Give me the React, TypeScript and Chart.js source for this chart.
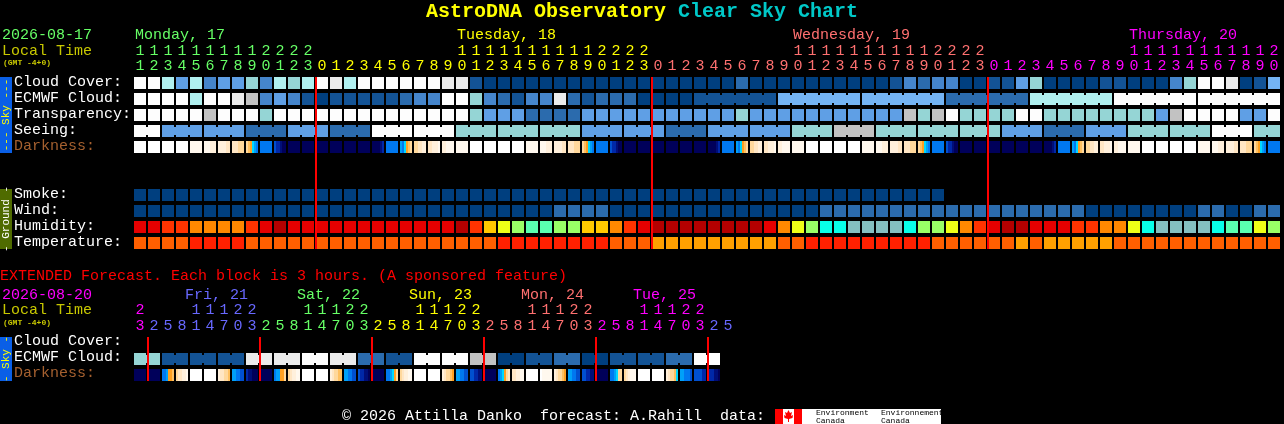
import { useEffect, useRef } from "react";
import { Chart, registerables, Plugin } from "chart.js";

Chart.register(...registerables);

// values are palette steps: 0 = clear/white ... 10 = overcast/navy
const cloudCover = [0,0,3,6,3,7,6,6,4,7,3,4,3,0,1,3,0,0,0,0,0,0,1,1,9,10,10,10,10,10,10,10,10,10,10,10,10,10,10,10,10,10,10,8,10,10,10,10,10,10,10,10,10,10,9,7,8,7,7,10,10,9,9,6,4,10,10,10,10,9,9,10,10,10,7,4,0,0,1,10,9,5];
const ecmwfCloud = [0,0,0,0,3,0,0,1,2,7,6,7,9,10,9,9,9,9,9,8,7,7,0,0,4,7,8,9,7,7,1,8,9,8,8,8,10,10,10,10,9,9,9,9,9,9,5,5,5,5,5,5,5,5,5,5,5,5,8,8,8,8,8,8,3,3,3,3,3,3,0,0,0,0,0,0,0,0,0,0,0,0];
const transparency = [0,0,0,0,0,2,0,0,0,4,0,0,0,0,0,0,0,0,0,0,0,0,0,0,4,6,6,6,8,8,8,8,6,6,6,6,6,6,6,6,6,6,6,4,6,6,6,6,6,6,6,6,6,6,6,2,4,2,0,4,4,4,4,0,0,4,4,4,4,4,4,4,4,6,2,0,0,0,0,6,6,0];
const seeing = [0,0,6,6,6,6,6,6,8,8,8,6,6,6,8,8,8,0,0,0,0,0,0,4,4,4,4,4,4,4,4,4,6,6,6,6,6,6,8,8,8,6,6,6,6,6,6,4,4,4,2,2,2,4,4,4,4,4,4,4,4,4,6,6,6,8,8,8,6,6,6,4,4,4,4,4,4,0,0,0,4,4];
const smoke = [10,10,10,10,10,10,10,10,10,10,10,10,10,10,10,10,10,10,10,10,10,10,10,10,10,10,10,10,10,10,10,10,10,10,10,10,10,10,10,10,10,10,10,10,10,10,10,10,10,10,10,10,10,10,10,10,10,10];
const wind = [10,10,10,10,10,10,10,10,10,10,10,10,10,10,10,10,10,10,10,10,10,10,10,10,10,10,10,10,10,10,8,8,8,8,10,10,10,10,10,10,10,10,10,10,10,10,10,10,10,8,8,8,8,8,8,8,8,8,8,8,8,8,8,8,8,8,8,8,10,10,10,10,10,10,10,10,8,8,10,10,8,8];
const humidity = [8,8,7,7,6,6,6,6,7,8,9,8,8,8,8,8,8,8,8,8,8,8,8,9,7,5,4,3,2,2,3,3,5,5,6,7,8,9,9,9,9,9,9,9,9,8,6,4,3,1,1,0,0,0,0,1,3,3,4,6,7,8,9,9,8,8,8,7,7,6,6,4,1,0,0,0,0,1,2,2,4,3];
const temperature = [1,1,1,1,2,2,2,2,1,1,1,1,1,1,1,1,1,1,1,1,1,1,1,1,1,1,2,2,2,2,2,2,2,2,1,1,1,0,0,0,0,0,0,0,0,0,1,1,2,2,2,2,2,2,2,2,2,1,1,1,1,1,1,0,1,0,0,0,0,0,1,1,1,1,1,1,1,1,1,1,1,1];
const extEcmwf = [4,4,9,9,9,9,9,9,1,1,1,1,0,0,1,1,8,8,9,9,0,0,0,0,2,2,10,10,9,9,8,8,10,10,9,9,9,9,8,8,0,0];

// darkness is read at six points across each block, one palette letter per point
const darkness = ["aaaaaa","aaaaaa","aaaaaa","aaaaaa","bbbbbb","bbbccc","ccccdd","dddeee","efghij","jjjjjj","kllmnn","nnnnnn","nnnnnn","nnnnnn","nnnnnn","nnnnnn","nnnnnn","nnnnml","jjjjjj","ijhgfe","eeddcc","ddcccb","ccbbbb","bbbbbb","aaaaaa","aaaaaa","aaaaaa","aaaaaa","bbbbbb","bbbccc","ccccdd","dddeee","efghij","jjjjjj","kllmnn","nnnnnn","nnnnnn","nnnnnn","nnnnnn","nnnnnn","nnnnnn","nnnnml","jjjjjj","ijhgfe","eeddcc","ddcccb","ccbbbb","bbbbbb","aaaaaa","aaaaaa","aaaaaa","aaaaaa","bbbbbb","bbbccc","ccccdd","dddeee","efghij","jjjjjj","kllmnn","nnnnnn","nnnnnn","nnnnnn","nnnnnn","nnnnnn","nnnnnn","nnnnml","jjjjjj","ijhgfe","eeddcc","ddcccb","ccbbbb","bbbbbb","aaaaaa","aaaaaa","aaaaaa","aaaaaa","bbbbbb","bbbccc","ccccdd","dddeee","efghij","jjjjjj"];
const extDarkness = ["nnnnnn","nnnnnn","jjiggf","eddccb","aaaaaa","aaaaaa","cddeef","iijjkk","lmmnnn","nnnnnn","jiigge","edccbb","aaaaaa","aaaaaa","cdeeff","iijjkk","kllmmn","nnnnnn","jjihge","edccbb","aaaaaa","aaaaaa","cdeefg","iijjkk","kkllmm","nnnnnn","jihged","ddccbb","aaaaaa","abbbbb","cdeefg","iijjkk","kkllmm","nnnnnn","jjihee","edcbbb","aaaaaa","aaaaaa","cdeefh","iijjjk","kkkkll","lllmmn"];

// how many columns run together in one joined block
const seeingBlocks = [2,3,3,3,3,3,3,3,3,3,3,3,3,3,3,3,3,3,3,3,3,3,3,3,3,3,3,2];
const ecmwfBlocks = [1,1,1,1,1,1,1,1,1,1,1,1,1,1,1,1,1,1,1,1,1,1,1,1,1,1,1,1,1,1,1,1,1,1,1,1,1,1,1,1,6,6,6,6,6,6,6];
const extEcmwfBlocks = [2,2,2,2,2,2,2,2,2,2,2,2,2,2,2,2,2,2,2,2,2];

const hours = [11,12,13,14,15,16,17,18,19,20,21,22,23,0,1,2,3,4,5,6,7,8,9,10,11,12,13,14,15,16,17,18,19,20,21,22,23,0,1,2,3,4,5,6,7,8,9,10,11,12,13,14,15,16,17,18,19,20,21,22,23,0,1,2,3,4,5,6,7,8,9,10,11,12,13,14,15,16,17,18,19,20];
const extHours = [23,2,5,8,11,14,17,20,23,2,5,8,11,14,17,20,23,2,5,8,11,14,17,20,23,2,5,8,11,14,17,20,23,2,5,8,11,14,17,20,23,2,5];
const midnights = [12.5714, 36.5714, 60.5714];
const extMidnights = [0.5714, 8.5714, 16.5714, 24.5714, 32.5714, 40.5714];

const GREEN = "#66ff66", YELLOW = "#ffff00", SALMON = "#ff7070", MAGENTA = "#ff00ff", PERI = "#6868ff";
const dayLabels = ["Monday, 17", "Tuesday, 18", "Wednesday, 19", "Thursday, 20"];
const dayLabelX = [135, 457, 793, 1129];
const dayColors = [GREEN, YELLOW, SALMON, MAGENTA];
const dayFirstCol = [0, 13, 37, 61];
const extLabels = ["Fri, 21", "Sat, 22", "Sun, 23", "Mon, 24", "Tue, 25"];
const extLabelX = [185, 297, 409, 521, 633];
const extLabelColors = [PERI, GREEN, YELLOW, SALMON, MAGENTA];
const extFirstCol = [0, 1, 9, 17, 25, 33, 41];
const extColColors = [MAGENTA, PERI, GREEN, YELLOW, SALMON, MAGENTA, PERI];

const skyPalette = ["#fdfdfd","#ebebeb","#c2c2c2","#b0f0f0","#95d5d5","#74b4f4","#5f9fe5","#4585cb","#2b6bad","#135395","#003f7f"];
const humidityPalette = ["#84c0c0","#08ffe8","#5affb0","#99ff66","#eeff17","#ffc800","#ff8800","#ff3300","#e60000","#b40000"];
const tempPalette = ["#ffa000","#ff5f00","#ff2000"];
const darkPalette: Record<string, string> = { a:"#ffffff", b:"#fff8ee", c:"#fff0dc", d:"#ffe6c4", e:"#ffd89c", f:"#ffc060", g:"#ffa020", h:"#00d8ff", i:"#00a0f8", j:"#0078f0", k:"#0050d0", l:"#0028a8", m:"#000e78", n:"#00005a" };

const MONO = '"Liberation Mono"';

function cells(values: number[], palette: string[], top: number) {
  return {
    type: "bar" as const,
    data: values.map((_, i) => ({ x: i, y: [top, top + 12] })),
    backgroundColor: values.map(v => palette[v]),
    barThickness: 12,
    inflateAmount: 0,
  };
}

// thin bridges between columns of one joined block
function bridges(values: number[], blocks: number[], top: number) {
  const data: { x: number; y: number[] }[] = [];
  const backgroundColor: string[] = [];
  let col = 0;
  blocks.forEach(n => {
    for (let i = col; i < col + n - 1; i++) {
      data.push({ x: i + 0.5, y: [top + 2, top + 10] });
      backgroundColor.push(skyPalette[values[i]]);
    }
    col += n;
  });
  return { type: "bar" as const, data, backgroundColor, barThickness: 2, inflateAmount: 0 };
}

function darknessBars(rows: string[], top: number) {
  const data: { x: number; y: number[] }[] = [];
  const backgroundColor: string[] = [];
  rows.forEach((r, i) => {
    r.split("").forEach((c, j) => {
      data.push({ x: i + ((j - 2.5) * 2) / 14, y: [top, top + 12] });
      backgroundColor.push(darkPalette[c]);
    });
  });
  return { type: "bar" as const, data, backgroundColor, barThickness: 2, inflateAmount: 0 };
}

// lower order is painted last, so the day lines sit over the blocks
function redLines(xs: number[], top: number, bottom: number) {
  return {
    type: "bar" as const,
    data: xs.map(x => ({ x, y: [top, bottom] })),
    backgroundColor: "#ff0000",
    barThickness: 2,
    inflateAmount: 0,
    order: -1,
  };
}

function colorAt(col: number, firsts: number[], colors: string[]) {
  let c = colors[0];
  firsts.forEach((f, k) => { if (col >= f) c = colors[k]; });
  return c;
}

const textPlugin: Plugin = {
  id: "skyText",
  afterDatasetsDraw(chart) {
    const { ctx } = chart;
    const sx = chart.scales.x;
    const put = (s: string, x: number, y: number, color: string, font = `15px ${MONO}`, align: CanvasTextAlign = "left") => {
      ctx.font = font;
      ctx.fillStyle = color;
      ctx.textAlign = align;
      ctx.fillText(s, x, y);
    };
    const strip = (x: number, y0: number, y1: number, bg: string, s: string, color: string) => {
      ctx.fillStyle = bg;
      ctx.fillRect(x, y0, 12, y1 - y0);
      ctx.save();
      ctx.translate(x + 9, (y0 + y1) / 2);
      ctx.rotate(-Math.PI / 2);
      put(s, 0, 0, color, `11px ${MONO}`, "center");
      ctx.restore();
    };
    ctx.save();
    ctx.textBaseline = "alphabetic";

    put("AstroDNA Observatory", 426, 17, "#ffff00", `bold 20px ${MONO}`);
    put("Clear Sky Chart", 678, 17, "#00c8c8", `bold 20px ${MONO}`);

    put("2026-08-17", 2, 39, GREEN);
    put("Local Time", 2, 55, "#c8c800");
    put("(GMT -4+0)", 3, 65, "#c8c800", `bold 8px ${MONO}`);
    dayLabels.forEach((d, i) => put(d, dayLabelX[i], 39, dayColors[i]));
    hours.forEach((h, i) => {
      const x = sx.getPixelForValue(i);
      const c = colorAt(i, dayFirstCol, dayColors);
      if (h >= 10) put(String(Math.floor(h / 10)), x, 55, c, undefined, "center");
      put(String(h % 10), x, 70, c, undefined, "center");
    });

    ["Cloud Cover:", "ECMWF Cloud:", "Transparency:", "Seeing:"].forEach((s, i) => put(s, 14, 86 + i * 16, "#ffffff"));
    put("Darkness:", 14, 150, "#a5602f");
    ["Smoke:", "Wind:", "Humidity:", "Temperature:"].forEach((s, i) => put(s, 14, 198 + i * 16, "#ffffff"));
    strip(0, 77, 153, "#0a5fe6", "--- Sky ---", "#ffff00");
    strip(0, 189, 249, "#4f6b00", "- Ground -", "#ffffff");

    put("EXTENDED Forecast. Each block is 3 hours. (A sponsored feature)", 0, 280, "#ff0000");
    put("2026-08-20", 2, 299, MAGENTA);
    put("Local Time", 2, 314, "#c8c800");
    put("(GMT -4+0)", 3, 325, "#c8c800", `bold 8px ${MONO}`);
    extLabels.forEach((d, i) => put(d, extLabelX[i], 299, extLabelColors[i]));
    extHours.forEach((h, i) => {
      const x = sx.getPixelForValue(i);
      const c = colorAt(i, extFirstCol, extColColors);
      if (h >= 10) put(String(Math.floor(h / 10)), x, 314, c, undefined, "center");
      put(String(h % 10), x, 330, c, undefined, "center");
    });
    put("Cloud Cover:", 14, 345, "#ffffff");
    put("ECMWF Cloud:", 14, 361, "#ffffff");
    put("Darkness:", 14, 377, "#a5602f");
    strip(0, 337, 381, "#0a5fe6", "- Sky -", "#ffff00");

    put("\u00a9 2026 Attilla Danko  forecast: A.Rahill  data:", 342, 420, "#ffffff");

    // Environment Canada logo
    ctx.fillStyle = "#ffffff";
    ctx.fillRect(775, 409, 166, 15);
    ctx.fillStyle = "#ff0000";
    ctx.fillRect(775, 409, 8, 15);
    ctx.fillRect(794, 409, 8, 15);
    ctx.beginPath();
    [[788.5,410],[790,413],[792,412],[791,416],[793,415],[792.5,418],[789,419],[789,422],[788,422],[788,419],[784.5,418],[784,415],[786,416],[785,412],[787,413]].forEach(([x, y], i) => {
      if (i === 0) ctx.moveTo(x, y); else ctx.lineTo(x, y);
    });
    ctx.closePath();
    ctx.fill();
    const small = `8px ${MONO}`;
    put("Environment", 816, 415, "#000000", small);
    put("Canada", 816, 423, "#000000", small);
    put("Environnement", 881, 415, "#000000", small);
    put("Canada", 881, 423, "#000000", small);
    ctx.restore();
  },
};

export default function App() {
  const canvasRef = useRef<HTMLCanvasElement>(null);

  useEffect(() => {
    if (!canvasRef.current) return;
    document.body.style.margin = "0";
    document.body.style.background = "#000";

    const chart = new Chart(canvasRef.current, {
      type: "bar",
      data: {
        datasets: [
          cells(cloudCover, skyPalette, 77),
          cells(ecmwfCloud, skyPalette, 93),
          bridges(ecmwfCloud, ecmwfBlocks, 93),
          cells(transparency, skyPalette, 109),
          cells(seeing, skyPalette, 125),
          bridges(seeing, seeingBlocks, 125),
          darknessBars(darkness, 141),
          cells(smoke, skyPalette, 189),
          cells(wind, skyPalette, 205),
          cells(humidity, humidityPalette, 221),
          cells(temperature, tempPalette, 237),
          cells(extEcmwf, skyPalette, 353),
          bridges(extEcmwf, extEcmwfBlocks, 353),
          darknessBars(extDarkness, 369),
          redLines(midnights, 77, 249),
          redLines(extMidnights, 337, 381),
        ] as any,
      },
      options: {
        responsive: false,
        animation: false,
        devicePixelRatio: 1,
        layout: { padding: 0 },
        datasets: { bar: { grouped: false } },
        plugins: { legend: { display: false }, tooltip: { enabled: false } },
        events: [],
        scales: {
          x: { type: "linear", display: false, offset: false, min: -10, max: (1284 - 140) / 14 },
          y: { type: "linear", display: false, min: 0, max: 424, reverse: true },
        },
      },
      plugins: [textPlugin],
    });
    return () => { chart.destroy(); };
  }, []);

  return <canvas ref={canvasRef} width={1284} height={424} style={{ display: "block", background: "#000" }} />;
}
